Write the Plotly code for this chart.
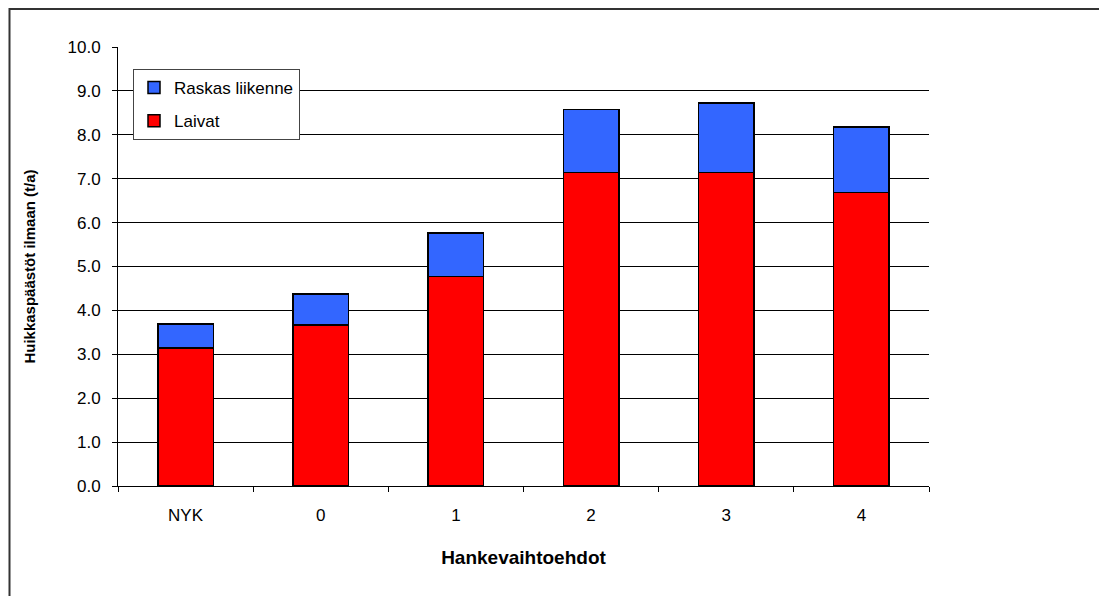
import plotly.graph_objects as go

categories = ["NYK", "0", "1", "2", "3", "4"]
laivat = [3.14, 3.67, 4.77, 7.14, 7.14, 6.69]
raskas = [0.55, 0.70, 0.99, 1.44, 1.58, 1.49]
y_ticks = [i for i in range(0, 11)]
y_tick_labels = [f"{v:.1f}" for v in y_ticks]

fig = go.Figure()
fig.add_trace(go.Bar(
    x=categories, y=laivat, name="Laivat", legendgroup="a", legendrank=2,
    marker=dict(color="#FF0000", line=dict(color="black", width=1.5)),
))
fig.add_trace(go.Bar(
    x=categories, y=raskas, name="Raskas liikenne", legendgroup="b", legendrank=1,
    marker=dict(color="#3366FF", line=dict(color="black", width=1.5)),
))

font = "Liberation Sans, Arial, sans-serif"
# page body adds an 8px offset; compensate with size/margins
PL, PT, PW, PH = 118, 47, 811, 439   # plot area in screen pixels
OFF = 8
fig.update_layout(
    width=1107 - OFF, height=596 - OFF,
    barmode="stack", bargap=0.59,
    paper_bgcolor="white", plot_bgcolor="white",
    margin=dict(l=PL - OFF, r=1107 - PL - PW, t=PT - OFF, b=596 - PT - PH, pad=0),
    font=dict(family=font, size=17, color="black"),
    showlegend=True,
    legend=dict(
        x=(133 - PL) / PW, y=(PT + PH - 69) / PH, xanchor="left", yanchor="top",
        bordercolor="#444444", borderwidth=1, bgcolor="white",
        traceorder="grouped", tracegroupgap=8,
        font=dict(family=font, size=17),
    ),
    xaxis=dict(
        title=dict(text="<b>Hankevaihtoehdot</b>", font=dict(size=19), standoff=26),
        showline=True, linecolor="black", linewidth=1,
        ticks="outside", tickson="boundaries", ticklen=5, tickcolor="black",
        tickfont=dict(size=17), ticklabelstandoff=14,
    ),
    yaxis=dict(
        title=dict(text="<b>Huikkaspäästöt ilmaan (t/a)</b>", font=dict(size=15), standoff=28),
        range=[0, 10], tickvals=y_ticks, ticktext=y_tick_labels,
        showline=True, linecolor="black", linewidth=1,
        ticks="outside", ticklen=5, tickcolor="black",
        showgrid=True, gridcolor="black", gridwidth=1,
        tickfont=dict(size=17), ticklabelstandoff=8,
        zeroline=False,
    ),
    shapes=[dict(
        type="rect", xref="paper", yref="paper",
        x0=(9.5 - PL) / PW, x1=(1115 - PL) / PW,
        y0=(PT + PH - 605) / PH, y1=(PT + PH - 9) / PH,
        line=dict(color="#333333", width=2), layer="below",
    )],
)

fig.write_html("out.html")
